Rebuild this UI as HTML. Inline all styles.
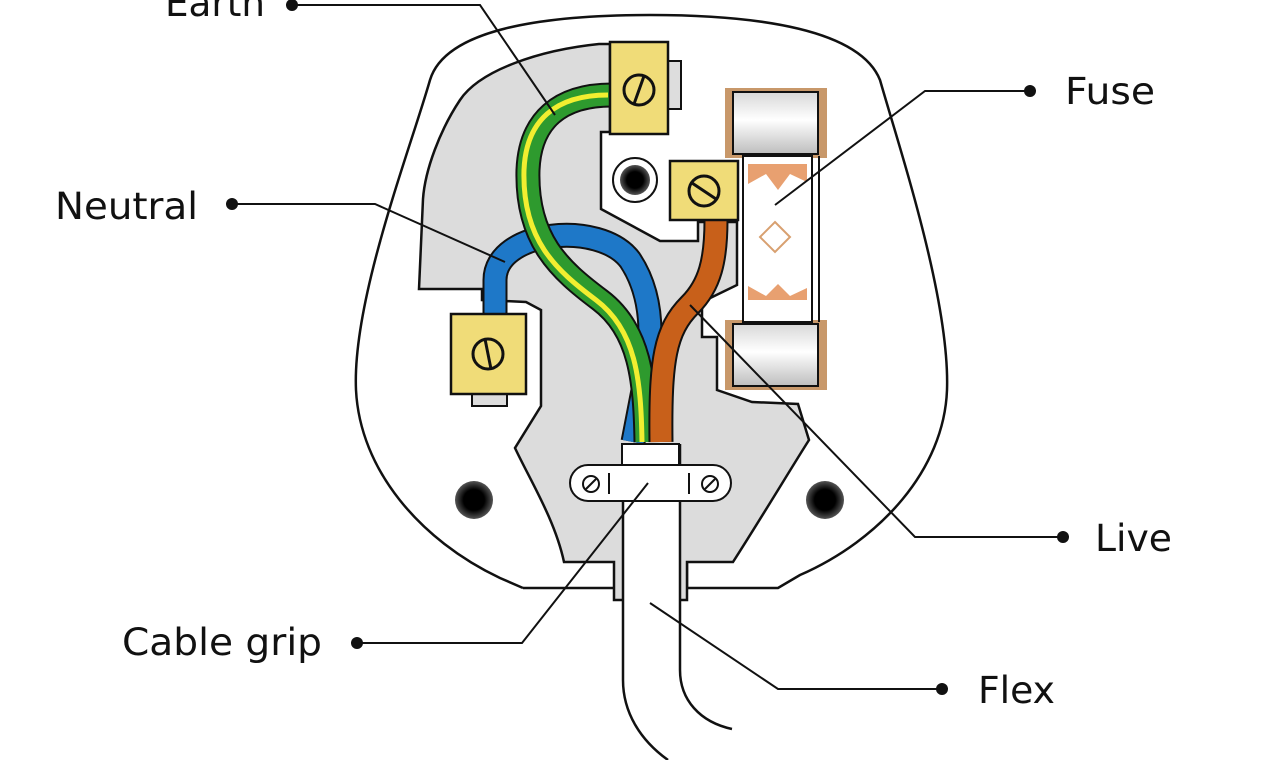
<!DOCTYPE html>
<html><head><meta charset="utf-8"><style>
html,body{margin:0;padding:0;background:#fff;width:1278px;height:760px;overflow:hidden}
svg{display:block}
text{font-family:"DejaVu Sans","Liberation Sans",sans-serif;font-size:37px;fill:#111}
</style></head><body>
<svg width="1278" height="760" viewBox="0 0 1278 760" xmlns="http://www.w3.org/2000/svg">
<defs>
<linearGradient id="cap" x1="0" y1="0" x2="0" y2="1">
<stop offset="0" stop-color="#d8d8d8"/><stop offset="0.45" stop-color="#ffffff"/><stop offset="1" stop-color="#bdbdbd"/>
</linearGradient>
<radialGradient id="hole"><stop offset="0.55" stop-color="#000"/><stop offset="1" stop-color="#555"/></radialGradient>
</defs>
<path d="M523,588 L500,578 C420,540 360,470 356,390 C352,300 410,150 430,80 C445,30 540,15 650,15 C760,15 860,30 880,80 C900,150 950,300 947,390 C944,470 880,540 800,575 L778,588 L687,588 L687,562 M616,562 L616,588 Z" fill="#fff" stroke="#111" stroke-width="2.5"/>
<path d="M523,588 L616,588 L616,562" fill="none" stroke="#111" stroke-width="2.5"/>
<path d="M599,44 C540,50 480,70 460,100 C440,130 425,170 423,199 L419,289 L482,289 L482,300 L526,302 L541,310 L541,406 L515,448 C530,480 555,520 564,562 L614,562 L614,600 L687,600 L687,562 L733,562 C760,520 790,470 809,440 L798,404 L752,402 L717,390 L717,337 L702,337 L702,302 L737,285 L737,222 L698,222 L698,241 L660,241 L601,209 L601,132 L610,132 L610,44 Z" fill="#dcdcdc" stroke="#111" stroke-width="2.5"/>
<circle cx="635" cy="180" r="22" fill="#fff" stroke="#111" stroke-width="2"/>
<circle cx="635" cy="180" r="15" fill="url(#hole)"/>
<circle cx="474" cy="500" r="19" fill="url(#hole)"/>
<circle cx="825" cy="500" r="19" fill="url(#hole)"/>
<rect x="725" y="88" width="102" height="70" fill="#c8986a"/>
<rect x="725" y="320" width="102" height="70" fill="#c8986a"/>
<rect x="743" y="156" width="69" height="166" fill="#fff" stroke="#111" stroke-width="2"/>
<path d="M748,164 L807,164 L807,182 L790,174 L778,190 L766,174 L748,184 Z" fill="#e8a070"/>
<path d="M748,300 L807,300 L807,288 L790,296 L778,284 L766,296 L748,286 Z" fill="#e8a070"/>
<path d="M775,222 L790,237 L775,252 L760,237 Z" fill="none" stroke="#d8a070" stroke-width="2"/>
<rect x="733" y="92" width="85" height="62" fill="url(#cap)" stroke="#111" stroke-width="2"/>
<rect x="733" y="324" width="85" height="62" fill="url(#cap)" stroke="#111" stroke-width="2"/>
<line x1="819" y1="156" x2="819" y2="322" stroke="#111" stroke-width="2"/>
<g fill="none" stroke-linecap="butt">
<path d="M495,318 L495,280 C495,230 600,220 630,260 C650,290 655,330 645,380 L633,442" stroke="#111" stroke-width="25"/>
<path d="M495,318 L495,280 C495,230 600,220 630,260 C650,290 655,330 645,380 L633,442" stroke="#1e78c8" stroke-width="21"/>
<path d="M612,95 C560,95 530,120 528,170 C526,240 560,270 600,300 C640,330 645,380 646,442" stroke="#111" stroke-width="25"/>
<path d="M612,95 C560,95 530,120 528,170 C526,240 560,270 600,300 C640,330 645,380 646,442" stroke="#2e9a2e" stroke-width="21"/>
<path d="M612,95 C560,95 530,120 528,170 C526,240 560,270 600,300 C640,330 645,380 646,442" stroke="#f2ee30" stroke-width="5" transform="translate(-4,0)"/>
<path d="M716,220 C716,260 710,285 690,305 C665,330 660,360 661,442" stroke="#111" stroke-width="25"/>
<path d="M716,220 C716,260 710,285 690,305 C665,330 660,360 661,442" stroke="#c8601a" stroke-width="21"/>
</g>
<rect x="668" y="61" width="13" height="48" fill="#ddd" stroke="#111" stroke-width="2"/>
<rect x="610" y="42" width="58" height="92" fill="#f0dc78" stroke="#111" stroke-width="2.5"/>
<circle cx="639" cy="90" r="15" fill="none" stroke="#111" stroke-width="3"/><line x1="634" y1="104" x2="644" y2="76" stroke="#111" stroke-width="3"/>
<rect x="670" y="161" width="68" height="59" fill="#f0dc78" stroke="#111" stroke-width="2.5"/>
<circle cx="704" cy="191" r="15" fill="none" stroke="#111" stroke-width="3"/><line x1="692" y1="183" x2="716" y2="199" stroke="#111" stroke-width="3"/>
<rect x="472" y="394" width="35" height="12" fill="#ddd" stroke="#111" stroke-width="2"/>
<rect x="451" y="314" width="75" height="80" fill="#f0dc78" stroke="#111" stroke-width="2.5"/>
<circle cx="488" cy="354" r="15" fill="none" stroke="#111" stroke-width="3"/><line x1="485" y1="339" x2="491" y2="369" stroke="#111" stroke-width="3"/>
<path d="M623,444 L623,680 C623,710 640,740 668,760 L710,760 L732,728 C700,720 680,700 680,670 L680,444 Z" fill="#fff"/>
<path d="M623,444 L623,680 C623,712 640,740 668,760" fill="none" stroke="#111" stroke-width="2.5"/>
<path d="M680,444 L680,670 C680,700 700,722 732,729" fill="none" stroke="#111" stroke-width="2.5"/>
<rect x="622" y="444" width="57" height="21" fill="#fff" stroke="#111" stroke-width="2"/>
<rect x="570" y="465" width="161" height="36" rx="18" fill="#fff" stroke="#111" stroke-width="2"/>
<line x1="609" y1="473" x2="609" y2="494" stroke="#111" stroke-width="2"/>
<line x1="689" y1="473" x2="689" y2="494" stroke="#111" stroke-width="2"/>
<circle cx="591" cy="484" r="8" fill="#fff" stroke="#111" stroke-width="2"/><line x1="586" y1="489" x2="596" y2="479" stroke="#111" stroke-width="2"/>
<circle cx="710" cy="484" r="8" fill="#fff" stroke="#111" stroke-width="2"/><line x1="705" y1="489" x2="715" y2="479" stroke="#111" stroke-width="2"/>
<g fill="none" stroke="#111" stroke-width="2">
<polyline points="292,5 480,5 555,115"/>
<polyline points="232,204 375,204 505,262"/>
<polyline points="1030,91 925,91 775,205"/>
<polyline points="1063,537 915,537 690,305"/>
<polyline points="357,643 522,643 648,483"/>
<polyline points="942,689 778,689 650,603"/>
</g>
<g fill="#111">
<circle cx="292" cy="5" r="6"/><circle cx="232" cy="204" r="6"/><circle cx="1030" cy="91" r="6"/>
<circle cx="1063" cy="537" r="6"/><circle cx="357" cy="643" r="6"/><circle cx="942" cy="689" r="6"/>
</g>
<text x="165" y="16" textLength="100" lengthAdjust="spacingAndGlyphs">Earth</text>
<text x="55" y="219" textLength="143" lengthAdjust="spacingAndGlyphs">Neutral</text>
<text x="1065" y="104" textLength="90" lengthAdjust="spacingAndGlyphs">Fuse</text>
<text x="1095" y="551" textLength="77" lengthAdjust="spacingAndGlyphs">Live</text>
<text x="122" y="655" textLength="200" lengthAdjust="spacingAndGlyphs">Cable grip</text>
<text x="978" y="703" textLength="77" lengthAdjust="spacingAndGlyphs">Flex</text>
</svg>
</body></html>
